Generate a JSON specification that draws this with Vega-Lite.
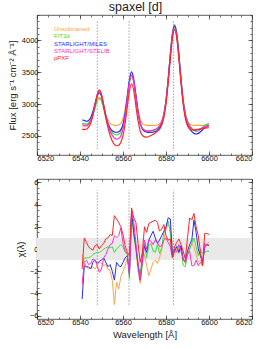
{
"$schema": "https://vega.github.io/schema/vega-lite/v6.json",
"padding": {"left": 6, "top": 0, "right": 3, "bottom": 1},
"background": "white",
"config": {
  "font": "Liberation Sans",
  "view": {"stroke": "#333", "strokeWidth": 0.8},
  "axis": {"domain": false, "grid": false, "tickSize": -4, "tickColor": "#333", "tickWidth": 0.7, "labelFontSize": 7.5, "labelColor": "#111", "titleFontSize": 9.5, "titleFontWeight": "normal", "titleColor": "#222", "labelPadding": 3, "labelOverlap": false}
},
"datasets": {
  "vlines": [{"w": 6548.05}, {"w": 6562.8}, {"w": 6583.45}],
  "band": [{"lo": -1, "hi": 1}],
  "flux": [
{"w":6541,"u":2680,"f":2700,"m":2750,"s":2660,"p":2604},
{"w":6542,"u":2678,"f":2693,"m":2743,"s":2658,"p":2603},
{"w":6543,"u":2675,"f":2685,"m":2730,"s":2657,"p":2605},
{"w":6544,"u":2698,"f":2703,"m":2743,"s":2683,"p":2638},
{"w":6545,"u":2749,"f":2749,"m":2789,"s":2739,"p":2704},
{"w":6546,"u":2839,"f":2834,"m":2884,"s":2834,"p":2819},
{"w":6547,"u":2956,"f":2946,"m":3011,"s":2986,"p":2986},
{"w":6548,"u":3062,"f":3047,"m":3127,"s":3142,"p":3147},
{"w":6549,"u":3105,"f":3090,"m":3175,"s":3220,"p":3220},
{"w":6550,"u":3062,"f":3047,"m":3122,"s":3152,"p":3142},
{"w":6551,"u":2956,"f":2926,"m":2976,"s":2996,"p":2976},
{"w":6552,"u":2839,"f":2784,"m":2819,"s":2819,"p":2789},
{"w":6553,"u":2749,"f":2669,"m":2699,"s":2679,"p":2629},
{"w":6554,"u":2698,"f":2593,"m":2623,"s":2578,"p":2508},
{"w":6555,"u":2675,"f":2550,"m":2580,"s":2510,"p":2420},
{"w":6556,"u":2667,"f":2527,"m":2562,"s":2467,"p":2367},
{"w":6557,"u":2665,"f":2515,"m":2555,"s":2450,"p":2345},
{"w":6558,"u":2674,"f":2526,"m":2566,"s":2459,"p":2354},
{"w":6559,"u":2699,"f":2564,"m":2599,"s":2504,"p":2399},
{"w":6560,"u":2770,"f":2660,"m":2685,"s":2610,"p":2505},
{"w":6561,"u":2919,"f":2844,"m":2859,"s":2809,"p":2699},
{"w":6562,"u":3138,"f":3103,"m":3118,"s":3078,"p":2958},
{"w":6563,"u":3353,"f":3353,"m":3383,"s":3338,"p":3208},
{"w":6564,"u":3445,"f":3455,"m":3505,"s":3455,"p":3320},
{"w":6565,"u":3353,"f":3353,"m":3393,"s":3348,"p":3213},
{"w":6566,"u":3138,"f":3118,"m":3138,"s":3108,"p":2973},
{"w":6567,"u":2919,"f":2874,"m":2879,"s":2864,"p":2739},
{"w":6568,"u":2770,"f":2705,"m":2700,"s":2700,"p":2580},
{"w":6569,"u":2699,"f":2619,"m":2609,"s":2621,"p":2507},
{"w":6570,"u":2674,"f":2586,"m":2574,"s":2592,"p":2484},
{"w":6571,"u":2665,"f":2573,"m":2560,"s":2580,"p":2480},
{"w":6572,"u":2665,"f":2573,"m":2555,"s":2580,"p":2490},
{"w":6573,"u":2665,"f":2577,"m":2555,"s":2585,"p":2505},
{"w":6574,"u":2665,"f":2585,"m":2560,"s":2593,"p":2525},
{"w":6575,"u":2665,"f":2595,"m":2570,"s":2605,"p":2545},
{"w":6576,"u":2671,"f":2616,"m":2591,"s":2626,"p":2571},
{"w":6577,"u":2687,"f":2652,"m":2627,"s":2657,"p":2607},
{"w":6578,"u":2733,"f":2718,"m":2693,"s":2718,"p":2668},
{"w":6579,"u":2842,"f":2842,"m":2822,"s":2837,"p":2787},
{"w":6580,"u":3051,"f":3061,"m":3046,"s":3051,"p":3001},
{"w":6581,"u":3375,"f":3395,"m":3375,"s":3375,"p":3327},
{"w":6582,"u":3761,"f":3791,"m":3766,"s":3756,"p":3714},
{"w":6583,"u":4086,"f":4121,"m":4096,"s":4076,"p":4040},
{"w":6584,"u":4215,"f":4250,"m":4230,"s":4200,"p":4170},
{"w":6585,"u":4086,"f":4116,"m":4096,"s":4071,"p":4041},
{"w":6586,"u":3761,"f":3786,"m":3761,"s":3751,"p":3713},
{"w":6587,"u":3375,"f":3400,"m":3365,"s":3370,"p":3323},
{"w":6588,"u":3051,"f":3071,"m":3031,"s":3046,"p":2993},
{"w":6589,"u":2842,"f":2857,"m":2812,"s":2832,"p":2777},
{"w":6590,"u":2733,"f":2738,"m":2683,"s":2713,"p":2661},
{"w":6591,"u":2687,"f":2667,"m":2612,"s":2647,"p":2612},
{"w":6592,"u":2671,"f":2621,"m":2566,"s":2611,"p":2596},
{"w":6593,"u":2665,"f":2585,"m":2540,"s":2590,"p":2595},
{"w":6594,"u":2665,"f":2570,"m":2530,"s":2585,"p":2600},
{"w":6595,"u":2665,"f":2580,"m":2540,"s":2595,"p":2605},
{"w":6596,"u":2665,"f":2605,"m":2565,"s":2610,"p":2610},
{"w":6597,"u":2666,"f":2636,"m":2596,"s":2626,"p":2616},
{"w":6598,"u":2667,"f":2667,"m":2627,"s":2642,"p":2622},
{"w":6599,"u":2668,"f":2683,"m":2653,"s":2653,"p":2626},
{"w":6600,"u":2668,"f":2693,"m":2668,"s":2658,"p":2628}
  ],
  "chi": [
{"w":6541,"u":-0.5,"f":-1.5,"m":-4.5,"s":-3.2,"p":-1.8},
{"w":6542,"u":-1.2,"f":-0.8,"m":-1.5,"s":-1.2,"p":1.0},
{"w":6543,"u":-1.6,"f":-0.8,"m":-1.6,"s":-1.0,"p":0.6},
{"w":6544,"u":-1.8,"f":-0.8,"m":-1.6,"s":-1.4,"p":0.2},
{"w":6545,"u":-1.7,"f":-0.7,"m":-1.8,"s":-1.3,"p":0.0},
{"w":6546,"u":-1.6,"f":-0.5,"m":-1.2,"s":-0.9,"p":-0.1},
{"w":6547,"u":-1.8,"f":-0.4,"m":-1.0,"s":-1.0,"p":0.3},
{"w":6548,"u":-1.5,"f":-0.3,"m":-1.3,"s":-1.5,"p":0.4},
{"w":6549,"u":-1.2,"f":-0.3,"m":-1.1,"s":-2.1,"p":0.0},
{"w":6550,"u":-1.3,"f":-0.2,"m":-1.0,"s":-1.8,"p":0.3},
{"w":6551,"u":-1.5,"f":0.0,"m":-0.8,"s":-0.8,"p":0.5},
{"w":6552,"u":-1.4,"f":0.1,"m":-1.2,"s":-0.5,"p":0.9},
{"w":6553,"u":-1.8,"f":0.2,"m":-1.6,"s":0.0,"p":1.0},
{"w":6554,"u":-2.0,"f":0.1,"m":-1.4,"s":0.4,"p":1.3},
{"w":6555,"u":-2.8,"f":0.2,"m":-2.0,"s":0.5,"p":1.2},
{"w":6556,"u":-5.0,"f":-0.3,"m":-2.8,"s":1.2,"p":3.0},
{"w":6557,"u":-3.0,"f":0.0,"m":-1.2,"s":1.0,"p":2.7},
{"w":6558,"u":-3.6,"f":0.2,"m":-1.5,"s":1.2,"p":2.4},
{"w":6559,"u":-2.5,"f":0.4,"m":-1.6,"s":1.9,"p":2.0},
{"w":6560,"u":-2.0,"f":0.2,"m":-1.2,"s":0.5,"p":1.3},
{"w":6561,"u":-1.5,"f":-0.3,"m":-0.8,"s":-0.2,"p":0.3},
{"w":6562,"u":-0.8,"f":-0.5,"m":-0.6,"s":-0.4,"p":-0.3},
{"w":6563,"u":-0.5,"f":-2.7,"m":-2.2,"s":-2.4,"p":-0.6},
{"w":6564,"u":3.4,"f":3.3,"m":3.4,"s":3.2,"p":3.7},
{"w":6565,"u":1.5,"f":1.2,"m":1.5,"s":2.5,"p":2.8},
{"w":6566,"u":0.0,"f":0.0,"m":0.2,"s":0.5,"p":2.4},
{"w":6567,"u":-2.0,"f":-1.5,"m":-1.5,"s":-1.2,"p":0.5},
{"w":6568,"u":-3.1,"f":-2.2,"m":-2.8,"s":-2.8,"p":-1.2},
{"w":6569,"u":-1.5,"f":-0.5,"m":-1.0,"s":-1.0,"p":-0.3},
{"w":6570,"u":-0.5,"f":0.5,"m":0.3,"s":0.8,"p":2.0},
{"w":6571,"u":-1.5,"f":-0.8,"m":-0.3,"s":0.0,"p":1.5},
{"w":6572,"u":-2.4,"f":0.3,"m":0.8,"s":0.8,"p":2.3},
{"w":6573,"u":-1.8,"f":0.5,"m":1.2,"s":0.7,"p":2.4},
{"w":6574,"u":-1.2,"f":-0.2,"m":1.6,"s":0.4,"p":2.5},
{"w":6575,"u":-1.0,"f":-0.3,"m":1.0,"s":0.8,"p":2.6},
{"w":6576,"u":-1.3,"f":0.4,"m":0.5,"s":0.6,"p":2.4},
{"w":6577,"u":-0.8,"f":-0.4,"m":0.8,"s":0.2,"p":1.6},
{"w":6578,"u":0.0,"f":0.1,"m":1.2,"s":0.3,"p":1.8},
{"w":6579,"u":0.8,"f":1.5,"m":1.6,"s":0.8,"p":2.2},
{"w":6580,"u":1.8,"f":1.9,"m":2.0,"s":1.0,"p":1.2},
{"w":6581,"u":2.2,"f":2.5,"m":2.8,"s":0.6,"p":0.8},
{"w":6582,"u":2.0,"f":1.4,"m":2.7,"s":0.2,"p":0.9},
{"w":6583,"u":-0.2,"f":-0.5,"m":-0.6,"s":-0.8,"p":-0.8},
{"w":6584,"u":-0.5,"f":0.0,"m":-0.2,"s":0.0,"p":0.2},
{"w":6585,"u":0.0,"f":0.3,"m":0.2,"s":-0.3,"p":0.6},
{"w":6586,"u":-0.4,"f":-0.2,"m":-0.3,"s":0.4,"p":0.9},
{"w":6587,"u":0.2,"f":0.3,"m":0.3,"s":-0.2,"p":0.4},
{"w":6588,"u":-0.8,"f":-1.5,"m":-1.0,"s":-0.9,"p":-0.2},
{"w":6589,"u":-1.3,"f":-1.6,"m":-1.1,"s":-1.2,"p":-0.9},
{"w":6590,"u":-0.5,"f":-0.6,"m":-0.2,"s":-0.4,"p":1.0},
{"w":6591,"u":0.0,"f":0.0,"m":0.4,"s":-0.2,"p":2.8},
{"w":6592,"u":0.5,"f":0.5,"m":0.8,"s":-1.5,"p":2.6},
{"w":6593,"u":0.2,"f":1.0,"m":2.6,"s":-1.5,"p":3.2},
{"w":6594,"u":-0.5,"f":0.2,"m":1.5,"s":-1.0,"p":2.0},
{"w":6595,"u":-1.2,"f":-0.6,"m":0.0,"s":-1.5,"p":1.2},
{"w":6596,"u":-1.0,"f":0.0,"m":-0.6,"s":-1.2,"p":-0.2},
{"w":6597,"u":-1.4,"f":-0.4,"m":-1.2,"s":-1.5,"p":-1.5},
{"w":6598,"u":0.0,"f":-0.3,"m":0.2,"s":0.5,"p":1.4},
{"w":6599,"u":0.5,"f":-0.2,"m":0.4,"s":0.3,"p":1.4},
{"w":6600,"u":0.6,"f":-0.2,"m":0.3,"s":0.4,"p":1.3}
  ]
},
"spacing": 15,
"resolve": {"scale": {"y": "independent"}, "legend": {"color": "independent"}},
"vconcat": [
  {
    "width": 215, "height": 140,
    "title": {"text": "spaxel [d]", "fontSize": 12.5, "fontWeight": "normal", "color": "#222", "offset": 1, "dx": -9},
    "resolve": {"axis": {"x": "independent", "y": "independent"}},
    "layer": [
      {
        "data": {"name": "vlines"},
        "mark": {"type": "rule", "strokeDash": [1, 2], "color": "#555", "strokeWidth": 0.8},
        "encoding": {
          "x": {"field": "w", "type": "quantitative", "scale": {"domain": [6520, 6620], "nice": false, "zero": false},
                "axis": {"orient": "bottom", "labels": false, "title": null, "tickSize": -2, "values": [6520,6525,6530,6535,6540,6545,6550,6555,6560,6565,6570,6575,6580,6585,6590,6595,6600,6605,6610,6615,6620]}},
          "y": {"datum": 2300, "type": "quantitative",
                "axis": {"orient": "left", "labels": false, "title": null, "tickSize": -2, "values": [2200,2300,2400,2500,2600,2700,2800,2900,3000,3100,3200,3300,3400,3500,3600,3700,3800,3900,4000,4100,4200,4300,4400]}},
          "y2": {"datum": 4300}
        }
      },
      {
        "data": {"name": "vlines"},
        "mark": {"type": "rule", "opacity": 0},
        "encoding": {
          "x": {"field": "w", "type": "quantitative",
                "axis": {"orient": "top", "labels": false, "title": null, "tickSize": -2, "values": [6520,6525,6530,6535,6540,6545,6550,6555,6560,6565,6570,6575,6580,6585,6590,6595,6600,6605,6610,6615,6620]}},
          "y": {"datum": 2300, "type": "quantitative",
                "axis": {"orient": "right", "labels": false, "title": null, "tickSize": -2, "values": [2200,2300,2400,2500,2600,2700,2800,2900,3000,3100,3200,3300,3400,3500,3600,3700,3800,3900,4000,4100,4200,4300,4400]}},
          "y2": {"datum": 4300}
        }
      },
      {
        "data": {"name": "vlines"},
        "mark": {"type": "rule", "opacity": 0},
        "encoding": {
          "x": {"field": "w", "type": "quantitative",
                "axis": {"orient": "top", "labels": false, "title": null, "values": [6520, 6540, 6560, 6580, 6600, 6620]}},
          "y": {"datum": 2300, "type": "quantitative",
                "axis": {"orient": "right", "labels": false, "title": null, "values": [2500, 3000, 3500, 4000]}},
          "y2": {"datum": 4300}
        }
      },
      {
        "data": {"name": "flux"},
        "transform": [{"fold": ["u", "f", "m", "s", "p"], "as": ["key", "flux"]}],
        "mark": {"type": "line", "strokeWidth": 1.2, "interpolate": "monotone"},
        "encoding": {
          "x": {"field": "w", "type": "quantitative", "axis": {"orient": "bottom", "format": "d", "values": [6520, 6540, 6560, 6580, 6600, 6620], "title": null}},
          "y": {"field": "flux", "type": "quantitative", "scale": {"domain": [2200, 4400], "nice": false, "zero": false}, "axis": {"orient": "left", "format": "d", "values": [2500, 3000, 3500, 4000], "title": "Flux [erg s⁻¹ cm⁻² Å⁻¹]"}},
          "color": {"field": "key", "type": "nominal",
            "scale": {"domain": ["u", "f", "m", "s", "p"], "range": ["#ffa347", "#3de03d", "#2b2bff", "#ff2fc8", "#ff2626"]},
            "legend": {"title": null, "orient": "top-left", "offset": 11, "symbolSize": 0, "symbolStrokeWidth": 0, "symbolOpacity": 0, "labelFontSize": 6, "rowPadding": 1.3, "labelOffset": 0, "padding": 0,
              "labelExpr": "datum.value == 'u' ? 'Unsubtracted' : datum.value == 'f' ? 'FIT3d' : datum.value == 'm' ? 'STARLIGHT/MILES' : datum.value == 's' ? 'STARLIGHT/STELIB' : 'pPXF'",
              "encode": {"labels": {"update": {"fill": {"scale": "color", "field": "value"}}}}}
          }
        }
      }
    ]
  },
  {
    "width": 215, "height": 140,
    "resolve": {"axis": {"x": "independent", "y": "independent"}},
    "layer": [
      {
        "data": {"name": "band"},
        "mark": {"type": "rect", "color": "#e9e9e9"},
        "encoding": {
          "y": {"field": "lo", "type": "quantitative", "scale": {"domain": [-6.3, 6.3], "nice": false, "zero": false},
                "axis": {"orient": "left", "values": [-6, -4, -2, 0, 2, 4, 6], "labelExpr": "format(datum.value, 'd')", "labelFontSize": 7.5, "title": "χ(λ)"}},
          "y2": {"field": "hi"}
        }
      },
      {
        "data": {"name": "vlines"},
        "mark": {"type": "rule", "strokeDash": [1, 2], "color": "#555", "strokeWidth": 0.8},
        "encoding": {
          "x": {"field": "w", "type": "quantitative", "scale": {"domain": [6520, 6620], "nice": false, "zero": false},
                "axis": {"orient": "bottom", "labels": false, "title": null, "tickSize": -2, "values": [6520,6525,6530,6535,6540,6545,6550,6555,6560,6565,6570,6575,6580,6585,6590,6595,6600,6605,6610,6615,6620]}},
          "y": {"datum": -5, "type": "quantitative",
                "axis": {"orient": "left", "labels": false, "title": null, "tickSize": -2, "values": [-6,-5.5,-5,-4.5,-4,-3.5,-3,-2.5,-2,-1.5,-1,-0.5,0,0.5,1,1.5,2,2.5,3,3.5,4,4.5,5,5.5,6]}},
          "y2": {"datum": 5.3}
        }
      },
      {
        "data": {"name": "vlines"},
        "mark": {"type": "rule", "opacity": 0},
        "encoding": {
          "x": {"field": "w", "type": "quantitative",
                "axis": {"orient": "top", "labels": false, "title": null, "tickSize": -2, "values": [6520,6525,6530,6535,6540,6545,6550,6555,6560,6565,6570,6575,6580,6585,6590,6595,6600,6605,6610,6615,6620]}},
          "y": {"datum": -5, "type": "quantitative",
                "axis": {"orient": "right", "labels": false, "title": null, "tickSize": -2, "values": [-6,-5.5,-5,-4.5,-4,-3.5,-3,-2.5,-2,-1.5,-1,-0.5,0,0.5,1,1.5,2,2.5,3,3.5,4,4.5,5,5.5,6]}},
          "y2": {"datum": 5.3}
        }
      },
      {
        "data": {"name": "vlines"},
        "mark": {"type": "rule", "opacity": 0},
        "encoding": {
          "x": {"field": "w", "type": "quantitative",
                "axis": {"orient": "top", "labels": false, "title": null, "values": [6520, 6540, 6560, 6580, 6600, 6620]}},
          "y": {"datum": -5, "type": "quantitative",
                "axis": {"orient": "right", "labels": false, "title": null, "values": [-6, -4, -2, 0, 2, 4, 6]}},
          "y2": {"datum": 5.3}
        }
      },
      {
        "data": {"name": "chi"},
        "transform": [{"fold": ["u", "f", "m", "s", "p"], "as": ["key", "chi"]}],
        "mark": {"type": "line", "strokeWidth": 1},
        "encoding": {
          "x": {"field": "w", "type": "quantitative", "axis": {"orient": "bottom", "format": "d", "values": [6520, 6540, 6560, 6580, 6600, 6620], "title": "Wavelength [Å]"}},
          "y": {"field": "chi", "type": "quantitative", "axis": null},
          "color": {"field": "key", "type": "nominal", "legend": null}
        }
      }
    ]
  }
]
}
